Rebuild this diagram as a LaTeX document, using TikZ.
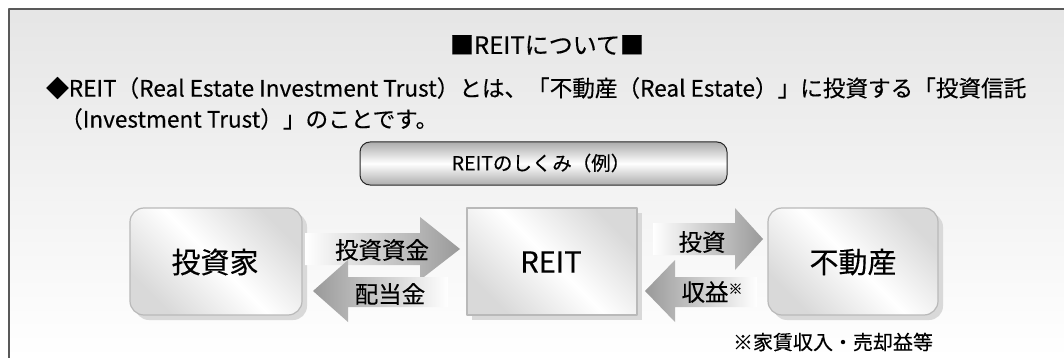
\documentclass[tikz,border=0pt]{standalone}
\usepackage{fontspec}
\setmainfont[FakeBold=0.3]{Noto Sans CJK JP}
\usetikzlibrary{positioning}
\tikzset{
  roundbox/.style={draw=gray!55,line width=1.2pt,rounded corners=14pt,
    top color=gray!30,bottom color=gray!30,middle color=white,shading angle=135},
  flatbox/.style={draw=gray!55,line width=1.2pt,
    top color=gray!30,bottom color=gray!30,middle color=white,shading angle=135},
  boxshadow/.style={fill=gray!30,rounded corners=14pt},
  lbl/.style={inner sep=0pt,font=\fontsize{23.5}{26}\selectfont},
  biglbl/.style={inner sep=0pt,font=\fontsize{29}{32}\selectfont}
}
\begin{document}
\begin{tikzpicture}[x=1pt,y=-1pt,line join=round]
\useasboundingbox(0,0)rectangle(1064,358);
% background and frame
\shade[top color=gray!20,bottom color=white](9,9)rectangle(1064,358);
\draw[gray!70!black,line width=2.5pt](9,358)--(9,9)--(1064,9);

\node[inner sep=0pt,font=\fontsize{24}{26}\selectfont] (title) at (547,45) {■REITについて■};
\node[inner sep=0pt,anchor=west,font=\fontsize{22.6}{26}\selectfont] (line1) at (46,88)
  {◆REIT（Real Estate Investment Trust）とは、「不動産（Real Estate）」に投資する「投資信託};
\node[inner sep=0pt,anchor=west,font=\fontsize{22.6}{26}\selectfont] (line2) at (60,119)
  {（Investment Trust）」のことです。};

% banner
\shade[draw=gray!30!black,line width=1pt,rounded corners=10pt,
  top color=gray!65,bottom color=gray!65,middle color=white](360,142)rectangle(727,185);
\node[inner sep=0pt,font=\fontsize{19.5}{22}\selectfont] (banner) at (541,163) {REITのしくみ（例）};

% shadows
\fill[boxshadow](135,213)rectangle(307,320);
\fill[gray!30](472,213)rectangle(642,320);
\fill[boxshadow](773,213)rectangle(943,320);

% boxes
\shade[roundbox](130,208)rectangle(302,315);
\shade[flatbox](467,208)rectangle(637,315);
\shade[roundbox](768,208)rectangle(938,315);
\node[biglbl] (inv) at (215,262) {投資家};
\node[biglbl] (reit) at (551,262) {REIT};
\node[biglbl] (re) at (853,262) {不動産};

% arrows
\shade[left color=white,right color=gray!80](305,233)--(420,233)--(420,217)--(460,249)
  --(420,280)--(420,265)--(305,265)--cycle;
\shade[left color=gray!80,right color=white](448,277)--(348,277)--(348,260)--(313,291)
  --(348,322)--(348,307)--(448,307)--cycle;
\shade[left color=white,right color=gray!80](653,223)--(735,223)--(735,208)--(763,239)
  --(735,270)--(735,255)--(653,255)--cycle;
\shade[left color=gray!80,right color=white](757,277)--(675,277)--(675,260)--(645,291)
  --(675,322)--(675,307)--(757,307)--cycle;

\node[lbl] (fund) at (382,250) {投資資金};
\node[lbl] (div) at (390,294) {配当金};
\node[lbl] (invest) at (702,242) {投資};
\node[lbl] (income) at (712,292) {収益\raisebox{7pt}{\fontsize{14}{15}\selectfont ※}};

\node[inner sep=0pt,font=\fontsize{20}{22}\selectfont] (note) at (833,342) {※家賃収入・売却益等};
\end{tikzpicture}
\end{document}
